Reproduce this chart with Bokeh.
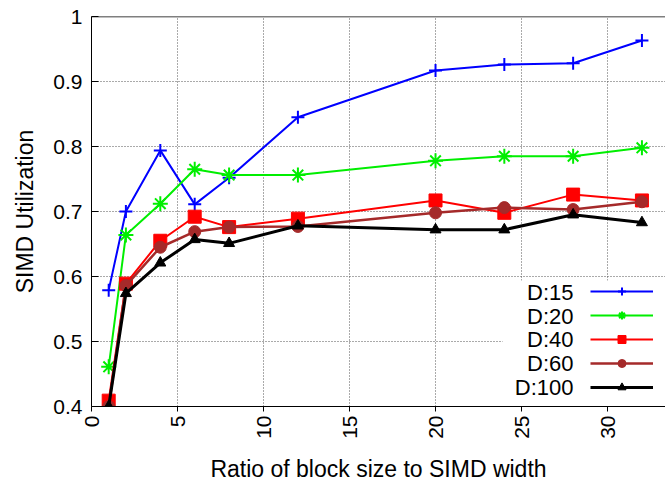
import math
from bokeh.plotting import figure
from bokeh.models import (Range1d, FixedTicker, Legend, LegendItem, Label,
                          BoxAnnotation, Span)
from bokeh.embed import file_html
from bokeh.resources import INLINE

# ---- data ----
ratios = [1, 2, 4, 6, 8, 12, 20, 24, 28, 32]
d15 = [0.579, 0.700, 0.794, 0.711, 0.752, 0.845, 0.917, 0.926, 0.928, 0.963]
d20 = [0.461, 0.664, 0.712, 0.765, 0.756, 0.756, 0.778, 0.785, 0.785, 0.798]
d40 = [0.409, 0.589, 0.655, 0.692, 0.676, 0.689, 0.717, 0.698, 0.726, 0.717]
d60 = [0.400, 0.586, 0.645, 0.669, 0.676, 0.677, 0.698, 0.706, 0.703, 0.715]
d100 = [0.400, 0.574, 0.621, 0.657, 0.651, 0.678, 0.672, 0.672, 0.695, 0.683]
series_names = ["D:15", "D:20", "D:40", "D:60", "D:100"]
x_ticks = [0, 5, 10, 15, 20, 25, 30]
y_ticks = [0.4, 0.5, 0.6, 0.7, 0.8, 0.9, 1.0]

FONT = "Liberation Sans"

p = figure(width=665, height=487, output_backend="svg", toolbar_location=None,
           x_range=Range1d(0, 33.37), y_range=Range1d(0.4, 1.0),
           min_border_left=91, min_border_top=16, min_border_right=0,
           min_border_bottom=81)
p.background_fill_color = "white"
p.border_fill_color = "white"
p.outline_line_color = None

# grid
for g in (p.xgrid, p.ygrid):
    g.grid_line_color = "#555555"
    g.grid_line_dash = "1 2"
    g.grid_line_width = 1
p.xgrid.ticker = FixedTicker(ticks=x_ticks)
p.ygrid.ticker = FixedTicker(ticks=y_ticks)

# axes
xa = p.xaxis[0]
xa.ticker = FixedTicker(ticks=x_ticks)
xa.major_label_orientation = math.pi / 2
xa.major_tick_in = 0
xa.major_tick_out = 5
xa.minor_tick_line_color = None
xa.major_label_standoff = 4
xa.axis_label = "Ratio of block size to SIMD width"
xa.axis_label_standoff = 14

ya = p.yaxis[0]
ya.ticker = FixedTicker(ticks=y_ticks)
ya.major_tick_in = 7
ya.major_tick_out = 0
ya.minor_tick_line_color = None
ya.major_label_standoff = 9
ya.major_label_overrides = {1: "1"}
ya.axis_label = "SIMD Utilization"
ya.axis_label_standoff = 12

for ax in (xa, ya):
    ax.axis_line_color = "black"
    ax.major_tick_line_color = "black"
    ax.major_label_text_font = FONT
    ax.major_label_text_font_size = "21px"
    ax.major_label_text_color = "black"
    ax.axis_label_text_font = FONT
    ax.axis_label_text_font_size = "23px"
    ax.axis_label_text_font_style = "normal"
    ax.axis_label_text_color = "black"

# top border of the frame
p.add_layout(Span(location=1.0, dimension="width", line_color="black",
                  line_width=1.5))

# white box behind key (hides grid)
box = BoxAnnotation(left=23.9, right=33.37, top=0.594, bottom=0.4,
                    fill_color="white", fill_alpha=1.0, line_color=None,
                    level="underlay")
p.add_layout(box, "center")

styles = [
    (d15, "#0000ff", "cross", 13, 2),
    (d20, "#00ee00", "asterisk", 15, 2),
    (d40, "#ff0000", "square", 13, 2),
    (d60, "#a52a2a", "circle", 12, 2.5),
    (d100, "#000000", "triangle", 11, 3),
]

items = []
for name, (ys, col, mk, sz, lw) in zip(series_names, styles):
    ln = p.line(ratios, ys, line_color=col, line_width=lw)
    if mk in ("cross", "asterisk"):
        sc = p.scatter(ratios, ys, marker=mk, size=sz, line_color=col,
                       line_width=2, fill_color=None)
    else:
        sc = p.scatter(ratios, ys, marker=mk, size=sz, line_color=col,
                       fill_color=col, line_width=1)
    items.append(LegendItem(label="", renderers=[ln, sc]))

legend = Legend(items=items, location=(499, 9), glyph_width=63,
                glyph_height=20, label_height=20, label_width=0,
                label_standoff=0, spacing=4, padding=0, margin=0,
                border_line_color=None, background_fill_alpha=0)
p.add_layout(legend, "center")

# key texts (right aligned, left of samples)
key_y = [0.5758, 0.5388, 0.5025, 0.4655, 0.4286]
for name, ky in zip(series_names, key_y):
    p.add_layout(Label(x=28.02, y=ky, text=name, text_align="right",
                       text_baseline="middle", text_font=FONT,
                       text_font_size="22px", text_color="black"))

open("out.html", "w").write(file_html(p, INLINE))
